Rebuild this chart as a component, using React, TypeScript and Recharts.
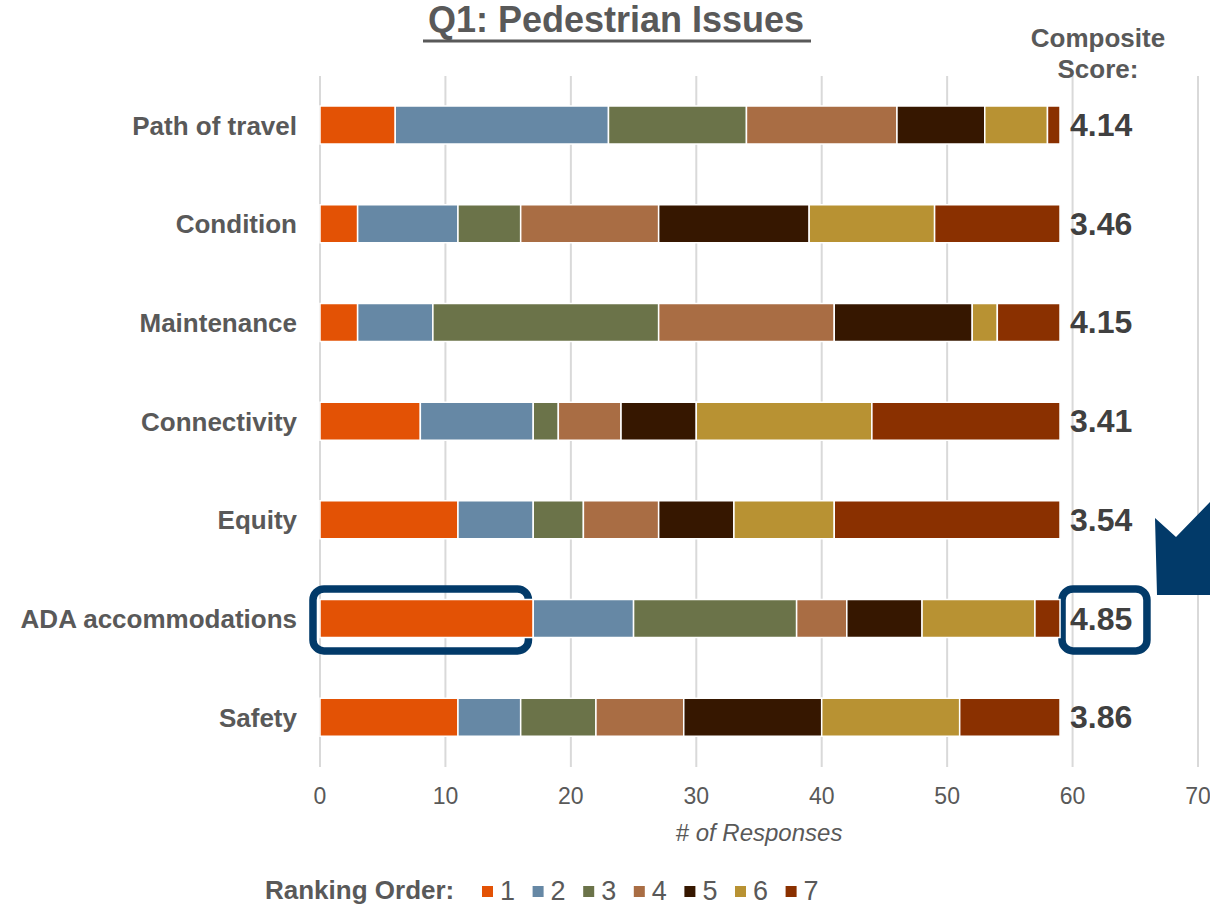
import React from 'react';
import { BarChart, Bar, XAxis, YAxis, CartesianGrid, LabelList, Legend, ReferenceArea } from 'recharts';

const categories = ['Path of travel', 'Condition', 'Maintenance', 'Connectivity', 'Equity', 'ADA accommodations', 'Safety'];
const rank1 = [6, 3, 3, 8, 11, 17, 11];
const rank2 = [17, 8, 6, 9, 6, 8, 5];
const rank3 = [11, 5, 18, 2, 4, 13, 6];
const rank4 = [12, 11, 14, 5, 6, 4, 7];
const rank5 = [7, 12, 11, 6, 6, 6, 11];
const rank6 = [5, 10, 2, 14, 8, 9, 11];
const rank7 = [1, 10, 5, 15, 18, 2, 8];
const scores = ['4.14', '3.46', '4.15', '3.41', '3.54', '4.85', '3.86'];
const seriesNames = ['1', '2', '3', '4', '5', '6', '7'];
const seriesColors = ['#E35205', '#6688A5', '#6B7349', '#A96D44', '#361700', '#B89233', '#8A3000'];
const xTicks = [0, 10, 20, 30, 40, 50, 60, 70];
const highlightCategory = 'ADA accommodations';

const allRanks = [rank1, rank2, rank3, rank4, rank5, rank6, rank7];
const data = categories.map((name, i) => {
  const row: any = { name, score: scores[i] };
  allRanks.forEach((r, k) => { row['r' + (k + 1)] = r[i]; });
  return row;
});

const FONT = '"Liberation Sans", Arial, sans-serif';
const GREY = '#595959';
const NAVY = '#023A69';

const renderScore = (props: any) => {
  const x = Number(props.x), y = Number(props.y), w = Number(props.width), h = Number(props.height);
  return (
    <text x={x + w + 10} y={y + h / 2 + 11} fontFamily={FONT} fontWeight="bold" fontSize={32} fill="#404040">
      {props.value}
    </text>
  );
};

const boxShape = (props: any) => {
  const { x, y, width, height } = props;
  const cy = y + height / 2;
  return <rect x={x} y={cy - 30} width={width} height={62} rx={11} ry={11} fill="none" stroke={NAVY} strokeWidth={7.5} />;
};

const renderLegend = () => (
  <svg width={1210} height={36}>
    <text x={265} y={27} fontFamily={FONT} fontWeight="bold" fontSize={26} fill={GREY}>Ranking Order:</text>
    {seriesNames.map((n, i) => (
      <g key={n}>
        <rect x={482 + i * 50.6} y={14} width={11} height={11} fill={seriesColors[i]} />
        <text x={500 + i * 50.6} y={28} fontFamily={FONT} fontSize={27} fill={GREY}>{n}</text>
      </g>
    ))}
  </svg>
);

export default function App() {
  return (
    <div style={{ position: 'absolute', left: 0, top: 0, width: 1210, height: 907, background: '#fff', overflow: 'hidden' }}>
      <BarChart
        width={1210}
        height={907}
        data={data}
        layout="vertical"
        margin={{ top: 76, right: 12, left: 0, bottom: 65 }}
        barSize={38}
      >
        <CartesianGrid horizontal={false} stroke="#D9D9D9" strokeWidth={2} />
        <XAxis
          type="number"
          domain={[0, 70]}
          ticks={xTicks}
          axisLine={false}
          tickLine={false}
          tickMargin={15}
          height={75}
          tick={{ fontFamily: FONT, fontSize: 23, fill: GREY }}
          label={{ value: '# of Responses', position: 'insideBottom', offset: 1, style: { fontFamily: FONT, fontSize: 24, fontStyle: 'italic', fill: GREY } }}
        />
        <YAxis
          type="category"
          dataKey="name"
          width={320}
          axisLine={false}
          tickLine={false}
          tickMargin={17}
          tick={{ fontFamily: FONT, fontSize: 26, fontWeight: 'bold', fill: GREY }}
        />
        <Legend verticalAlign="middle" align="center" layout="horizontal" wrapperStyle={{ top: 872, left: 0, width: 1210, height: 36 }} content={renderLegend} />
        {seriesNames.map((n, k) => (
          <Bar key={n} dataKey={'r' + (k + 1)} name={n} stackId="a" fill={seriesColors[k]} stroke="#fff" strokeWidth={1.5} isAnimationActive={false}>
            {k === seriesNames.length - 1 ? <LabelList dataKey="score" content={renderScore} /> : null}
          </Bar>
        ))}
        <ReferenceArea y1={highlightCategory} y2={highlightCategory} x1={-0.56} x2={16.62} ifOverflow="visible" shape={boxShape} />
        <ReferenceArea y1={highlightCategory} y2={highlightCategory} x1={59.16} x2={65.93} ifOverflow="visible" shape={boxShape} />
      </BarChart>
      <svg width={1210} height={907} style={{ position: 'absolute', left: 0, top: 0, pointerEvents: 'none' }}>
        <text x={616} y={32} textAnchor="middle" fontFamily={FONT} fontWeight="bold" fontSize={36} fill={GREY}>Q1: Pedestrian Issues</text>
        <line x1={423} x2={811} y1={41} y2={41} stroke={GREY} strokeWidth={3} />
        <text x={1098} y={47} textAnchor="middle" fontFamily={FONT} fontWeight="bold" fontSize={26} fill={GREY}>Composite</text>
        <text x={1098} y={78} textAnchor="middle" fontFamily={FONT} fontWeight="bold" fontSize={26} fill={GREY}>Score:</text>
        <polygon points="1155,518 1176,537 1210,502 1210,595 1157,595" fill={NAVY} />
      </svg>
    </div>
  );
}
